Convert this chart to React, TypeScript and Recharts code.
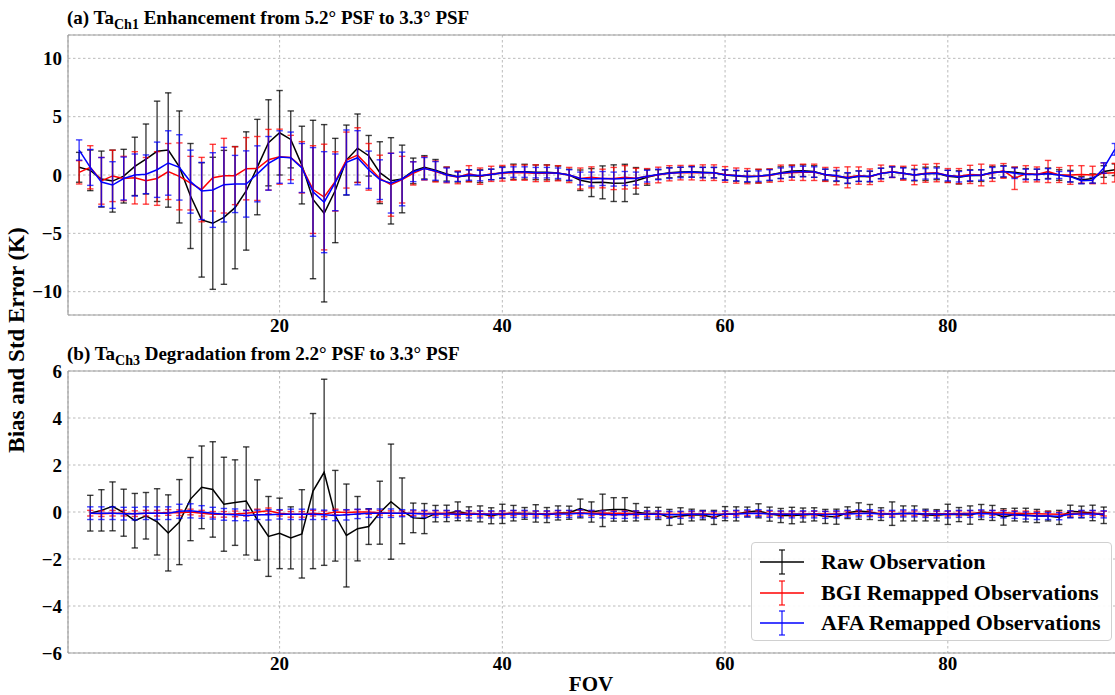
import React from 'react';
import { LineChart, Line, XAxis, YAxis, CartesianGrid, ErrorBar, ReferenceLine, Legend } from 'recharts';

// ---- panel (a): Ta Ch1, FOV 2..95 ----
const fovA = [2,3,4,5,6,7,8,9,10,11,12,13,14,15,16,17,18,19,20,21,22,23,24,25,26,27,28,29,30,31,32,33,34,35,36,37,38,39,40,41,42,43,44,45,46,47,48,49,50,51,52,53,54,55,56,57,58,59,60,61,62,63,64,65,66,67,68,69,70,71,72,73,74,75,76,77,78,79,80,81,82,83,84,85,86,87,88,89,90,91,92,93,94,95];
const rawA = [0.66,0.4,-0.35,-0.52,-0.1,0.74,1.37,2.03,2.14,0.69,-1.8,-3.85,-4.14,-3.63,-2.8,-1.37,0.68,2.76,3.62,3.05,0.85,-2.1,-3.28,-1.33,1.28,2.3,1.65,0.2,-0.5,-0.34,0.35,0.66,0.4,0.08,-0.15,-0.05,-0.1,0.05,0.2,0.28,0.28,0.23,0.23,0.17,0.0,-0.45,-0.65,-0.63,-0.7,-0.68,-0.5,-0.2,0.05,0.2,0.26,0.28,0.23,0.2,0.0,-0.08,-0.15,-0.1,0.0,0.2,0.34,0.37,0.3,0.0,-0.1,-0.28,-0.1,-0.14,0.14,0.25,0.15,0.0,0.1,0.15,-0.1,-0.2,-0.05,-0.05,0.23,0.3,0.23,0.1,0.05,0.15,0.0,-0.1,-0.43,-0.3,0.3,0.45];
const rawErrA = [1.28,1.74,2.4,2.66,2.3,2.5,3.0,4.3,4.9,4.8,4.5,4.9,5.66,5.74,5.24,5.07,4.09,3.69,3.62,2.44,3.33,6.79,7.6,4.47,3.0,2.93,1.74,2.65,3.7,2.9,1.1,1.0,0.93,0.6,0.45,0.5,0.55,0.45,0.5,0.65,0.64,0.63,0.64,0.6,0.5,0.88,1.2,1.41,1.57,1.6,1.14,0.68,0.4,0.43,0.4,0.45,0.43,0.45,0.43,0.45,0.47,0.57,0.5,0.5,0.5,0.5,0.5,0.5,0.45,0.45,0.45,0.45,0.45,0.45,0.5,0.5,0.57,0.55,0.5,0.57,0.5,0.5,0.5,0.5,0.43,0.45,0.45,0.45,0.45,0.5,0.3,0.4,0.5,0.5];
const bgiA = [0.23,0.66,-0.5,-0.08,-0.3,-0.24,-0.5,-0.3,0.3,-0.12,-0.7,-1.25,-0.23,-0.06,-0.06,0.54,0.56,1.31,1.57,1.5,0.66,-1.25,-1.89,-0.55,1.28,1.7,0.7,-0.3,-0.83,-0.4,0.14,0.57,0.3,0.0,-0.2,0.1,-0.1,0.1,0.15,0.2,0.2,0.15,0.15,0.15,0.0,-0.3,-0.2,-0.3,-0.3,-0.2,-0.28,-0.1,0.0,0.15,0.2,0.2,0.2,0.2,0.05,-0.05,-0.1,-0.1,-0.05,0.15,0.2,0.23,0.23,0.05,-0.1,-0.2,-0.05,-0.15,0.15,0.28,0.15,0.0,0.15,0.2,-0.05,-0.1,0.05,0.0,0.15,0.35,-0.28,0.1,0.05,0.3,0.0,0.0,0.05,0.0,0.15,0.2];
const bgiErrA = [1.0,1.85,2.0,2.2,1.9,2.24,2.0,2.3,2.4,2.87,2.3,2.76,2.86,3.2,2.48,2.67,2.74,2.6,2.36,1.9,2.2,3.76,4.53,2.54,2.4,2.35,2.0,2.0,2.7,2.0,1.0,1.0,0.9,0.67,0.55,0.7,0.7,0.65,0.67,0.65,0.65,0.72,0.7,0.65,0.65,0.9,0.9,0.8,0.95,1.0,0.85,0.65,0.67,0.65,0.62,0.62,0.67,0.67,0.67,0.65,0.65,0.6,0.57,0.7,0.65,0.7,0.7,0.6,0.74,0.9,0.74,0.67,0.7,0.5,0.6,0.83,0.77,0.78,0.6,0.65,0.78,0.93,0.7,0.63,0.96,0.7,0.64,0.95,0.64,0.8,0.75,0.75,0.88,0.8];
const afaA = [2.14,0.65,-0.6,-0.86,-0.3,0.0,0.06,0.45,1.03,0.65,-0.57,-1.37,-1.29,-0.83,-0.77,-0.77,0.1,1.0,1.54,1.48,0.6,-1.45,-2.33,-0.63,1.08,1.48,0.45,-0.4,-0.7,-0.34,0.28,0.55,0.35,0.0,-0.15,0.0,-0.05,0.05,0.2,0.25,0.25,0.2,0.2,0.15,0.0,-0.3,-0.35,-0.3,-0.35,-0.3,-0.3,-0.1,0.05,0.15,0.22,0.25,0.2,0.2,0.0,-0.05,-0.12,-0.1,0.0,0.15,0.25,0.3,0.25,0.05,-0.05,-0.25,-0.1,-0.1,0.12,0.25,0.15,0.0,0.1,0.15,-0.05,-0.15,-0.05,0.0,0.2,0.3,0.15,0.05,0.05,0.1,0.0,-0.14,-0.5,-0.45,0.6,2.2];
const afaErrA = [0.87,1.54,2.1,2.0,1.84,1.8,1.66,2.37,2.76,2.8,2.7,2.45,3.2,3.2,2.45,2.84,2.4,2.3,2.25,2.2,2.1,3.8,4.33,2.43,2.78,2.32,1.6,1.7,2.56,2.3,0.85,0.95,0.8,0.6,0.4,0.45,0.45,0.45,0.45,0.45,0.45,0.45,0.45,0.45,0.45,0.55,0.6,0.6,0.6,0.6,0.55,0.5,0.45,0.45,0.45,0.45,0.45,0.45,0.45,0.45,0.45,0.45,0.45,0.45,0.45,0.45,0.45,0.45,0.45,0.45,0.45,0.45,0.45,0.45,0.45,0.45,0.45,0.45,0.45,0.45,0.45,0.45,0.45,0.45,0.45,0.45,0.45,0.45,0.3,0.45,0.25,0.25,0.45,0.5];

// ---- panel (b): Ta Ch3, FOV 3..94 ----
const fovB = [3,4,5,6,7,8,9,10,11,12,13,14,15,16,17,18,19,20,21,22,23,24,25,26,27,28,29,30,31,32,33,34,35,36,37,38,39,40,41,42,43,44,45,46,47,48,49,50,51,52,53,54,55,56,57,58,59,60,61,62,63,64,65,66,67,68,69,70,71,72,73,74,75,76,77,78,79,80,81,82,83,84,85,86,87,88,89,90,91,92,93,94];
const rawB = [-0.05,0.07,0.24,-0.03,-0.37,-0.16,-0.42,-0.89,-0.43,0.55,1.05,0.96,0.33,0.4,0.47,-0.34,-1.04,-0.91,-1.1,-0.93,0.89,1.69,-0.16,-1.0,-0.71,-0.62,-0.03,0.44,0.05,-0.25,-0.28,-0.07,-0.06,0.03,-0.08,-0.08,-0.16,-0.08,-0.05,-0.06,-0.06,-0.13,-0.04,-0.03,0.15,0.0,0.07,0.11,0.11,-0.01,-0.06,-0.06,-0.23,-0.17,-0.13,-0.13,-0.23,-0.07,-0.08,0.0,0.05,-0.09,-0.15,-0.15,-0.13,-0.1,-0.19,-0.2,-0.03,0.04,0.0,-0.09,-0.07,-0.06,-0.06,-0.13,-0.14,-0.1,-0.11,-0.13,0.0,-0.04,-0.21,-0.11,-0.13,-0.17,-0.17,-0.23,0.03,0.0,-0.04,-0.14];
const rawErrB = [0.76,0.88,1.04,1.0,1.16,0.99,1.41,1.62,1.81,1.77,1.76,2.03,2.0,1.82,2.3,1.71,1.7,1.5,1.32,1.88,3.3,3.96,1.93,2.19,1.37,0.76,1.34,2.45,1.4,0.63,0.64,0.35,0.35,0.4,0.3,0.34,0.34,0.41,0.33,0.25,0.37,0.32,0.3,0.28,0.4,0.43,0.69,0.5,0.5,0.37,0.26,0.26,0.34,0.35,0.25,0.2,0.3,0.3,0.3,0.21,0.3,0.3,0.3,0.35,0.3,0.28,0.3,0.32,0.25,0.35,0.32,0.27,0.5,0.32,0.32,0.25,0.24,0.43,0.3,0.39,0.32,0.32,0.35,0.27,0.29,0.28,0.21,0.3,0.26,0.25,0.33,0.35];
const bgiB = [-0.05,-0.07,-0.05,-0.05,-0.07,-0.05,-0.05,-0.02,-0.03,0.0,-0.05,-0.1,-0.1,-0.08,-0.05,0.0,0.05,-0.05,-0.1,-0.1,-0.05,-0.08,0.0,-0.02,0.0,0.0,-0.03,-0.05,-0.05,-0.05,-0.06,-0.05,-0.05,-0.06,-0.05,-0.07,-0.08,-0.06,-0.05,-0.06,-0.07,-0.07,-0.05,-0.05,-0.03,-0.05,-0.04,-0.05,-0.05,-0.06,-0.08,-0.08,-0.1,-0.1,-0.08,-0.08,-0.1,-0.08,-0.06,-0.05,-0.05,-0.07,-0.08,-0.08,-0.08,-0.07,-0.08,-0.08,-0.06,-0.05,-0.05,-0.06,-0.07,-0.06,-0.06,-0.07,-0.07,-0.07,-0.06,-0.05,-0.04,-0.04,-0.03,-0.05,-0.06,-0.07,-0.08,-0.1,-0.07,-0.05,-0.05,-0.07];
const bgiErrB = [0.12,0.12,0.12,0.12,0.12,0.12,0.12,0.12,0.12,0.12,0.12,0.12,0.12,0.12,0.12,0.12,0.12,0.12,0.12,0.12,0.12,0.12,0.12,0.1,0.1,0.1,0.1,0.1,0.1,0.1,0.1,0.1,0.1,0.1,0.1,0.1,0.1,0.1,0.1,0.1,0.1,0.1,0.1,0.1,0.1,0.1,0.1,0.1,0.1,0.1,0.1,0.1,0.1,0.1,0.1,0.1,0.1,0.1,0.1,0.1,0.1,0.1,0.1,0.1,0.1,0.1,0.1,0.1,0.1,0.1,0.1,0.1,0.1,0.1,0.1,0.1,0.1,0.1,0.1,0.1,0.1,0.1,0.1,0.1,0.1,0.1,0.1,0.1,0.1,0.1,0.1,0.1];
const afaB = [-0.05,-0.05,-0.05,-0.07,-0.07,-0.05,-0.05,-0.05,0.03,0.05,0.0,-0.05,-0.1,-0.12,-0.15,-0.12,-0.12,-0.1,-0.1,-0.1,-0.1,-0.12,-0.15,-0.12,-0.08,-0.05,-0.05,-0.05,-0.05,-0.06,-0.08,-0.08,-0.08,-0.1,-0.1,-0.1,-0.1,-0.1,-0.08,-0.08,-0.1,-0.1,-0.08,-0.08,-0.05,-0.08,-0.1,-0.12,-0.12,-0.1,-0.1,-0.1,-0.12,-0.12,-0.1,-0.1,-0.12,-0.1,-0.08,-0.06,-0.05,-0.08,-0.1,-0.1,-0.1,-0.1,-0.12,-0.1,-0.08,-0.06,-0.05,-0.08,-0.08,-0.06,-0.06,-0.08,-0.1,-0.1,-0.08,-0.08,-0.06,-0.08,-0.1,-0.12,-0.15,-0.17,-0.17,-0.18,-0.1,-0.08,-0.08,-0.1];
const afaErrB = [0.27,0.27,0.27,0.27,0.27,0.27,0.27,0.27,0.3,0.3,0.27,0.25,0.25,0.25,0.22,0.2,0.22,0.2,0.22,0.22,0.22,0.2,0.22,0.22,0.2,0.18,0.18,0.18,0.15,0.15,0.15,0.15,0.15,0.15,0.15,0.15,0.15,0.15,0.15,0.15,0.15,0.15,0.15,0.15,0.15,0.15,0.15,0.15,0.15,0.15,0.15,0.15,0.15,0.15,0.15,0.15,0.15,0.15,0.15,0.15,0.15,0.15,0.15,0.15,0.15,0.15,0.15,0.15,0.15,0.15,0.15,0.15,0.15,0.15,0.15,0.15,0.15,0.15,0.15,0.15,0.15,0.15,0.15,0.15,0.15,0.15,0.15,0.15,0.15,0.15,0.15,0.15];

const xTicks = [20, 40, 60, 80];
const yTicksA = [-10, -5, 0, 5, 10];
const yTicksB = [-6, -4, -2, 0, 2, 4, 6];

const seriesNames = ['Raw Observation', 'BGI Remapped Observations', 'AFA Remapped Observations'];
const seriesColors = ['#000000', '#ff0000', '#0000ff'];
const barColors = ['rgba(0,0,0,0.75)', 'rgba(255,0,0,0.75)', 'rgba(0,0,255,0.75)'];

const FONT = '"Liberation Serif", "DejaVu Serif", serif';
const tickStyle = { fontFamily: FONT, fontWeight: 700, fontSize: 19, fill: '#000' };
const fmt = (v: number) => (v < 0 ? '\u2212' + Math.abs(v) : String(v));

const buildRows = (fov: number[], vals: number[][], errs: number[][]) =>
  fov.map((f, i) => ({
    fov: f,
    raw: vals[0][i], rawErr: errs[0][i],
    bgi: vals[1][i], bgiErr: errs[1][i],
    afa: vals[2][i], afaErr: errs[2][i],
  }));

const dataA = buildRows(fovA, [rawA, bgiA, afaA], [rawErrA, bgiErrA, afaErrA]);
const dataB = buildRows(fovB, [rawB, bgiB, afaB], [rawErrB, bgiErrB, afaErrB]);

const keys = ['raw', 'bgi', 'afa'];

const LegendBox = () => (
  <div style={{
    width: 361, height: 99, boxSizing: 'border-box', background: 'rgba(255,255,255,0.9)',
    border: '1px solid #d0d0d0', borderRadius: 4, paddingTop: 4,
  }}>
    {seriesNames.map((name, i) => (
      <div key={name} style={{ display: 'flex', alignItems: 'center', height: 30.5 }}>
        <svg width={62} height={30} style={{ marginLeft: 6 }}>
          <line x1={2} x2={46} y1={15} y2={15} stroke={seriesColors[i]} strokeWidth={1.5} />
          <line x1={24} x2={24} y1={3} y2={27} stroke={barColors[i]} strokeWidth={1.5} />
          <line x1={21} x2={27} y1={3} y2={3} stroke={barColors[i]} strokeWidth={1.5} />
          <line x1={21} x2={27} y1={27} y2={27} stroke={barColors[i]} strokeWidth={1.5} />
        </svg>
        <span style={{ fontFamily: FONT, fontWeight: 700, fontSize: 22, marginLeft: 1, whiteSpace: 'nowrap' }}>{name}</span>
      </div>
    ))}
  </div>
);

const Panel = ({ data, yDomain, yTicks, top, height, marginTop, withLegend }: any) => (
  <div style={{ position: 'absolute', left: 0, top }}>
    <LineChart width={1126} height={height} data={data} margin={{ top: marginTop, right: 0, bottom: 0, left: 8 }}>
      <CartesianGrid stroke="#a8a8a8" strokeDasharray="2.5 2.5" strokeWidth={0.8} />
      <XAxis dataKey="fov" type="number" domain={[1, 96]} ticks={xTicks} allowDataOverflow
        height={30} tick={tickStyle} tickLine={false} tickSize={3} tickMargin={1}
        axisLine={{ stroke: '#a0a0a0', strokeWidth: 1.2 }} />
      <YAxis type="number" domain={yDomain} ticks={yTicks} width={60} interval={0}
        tick={tickStyle} tickFormatter={fmt} tickLine={false} tickSize={4} tickMargin={2}
        axisLine={{ stroke: '#a0a0a0', strokeWidth: 1.2 }} />
      <ReferenceLine y={yDomain[1]} stroke="#a0a0a0" strokeWidth={1.2} />
      {keys.map((k, i) => (
        <Line key={k} dataKey={k} type="linear" stroke={seriesColors[i]} strokeWidth={1.5}
          dot={false} isAnimationActive={false}>
          <ErrorBar dataKey={k + 'Err'} width={3.2} stroke={barColors[i]} strokeWidth={1.4} direction="y" isAnimationActive={false} />
        </Line>
      ))}
      {withLegend && (
        <Legend layout="vertical" align="center" verticalAlign="middle" content={() => <LegendBox />}
          wrapperStyle={{ left: 751, top: 542 - top, width: 361 }} />
      )}
    </LineChart>
  </div>
);

const titleStyle: React.CSSProperties = {
  position: 'absolute', fontFamily: FONT, fontWeight: 700, fontSize: 19, whiteSpace: 'nowrap', color: '#000',
};
const subStyle: React.CSSProperties = { fontSize: 14, position: 'relative', top: 5 };

export default function App() {
  return (
    <div style={{ position: 'fixed', left: 0, top: 0, width: 1115, height: 695, overflow: 'hidden', background: '#fff' }}>
      <Panel data={dataA} yDomain={[-12, 12]} yTicks={yTicksA} top={0} height={345} marginTop={35} />
      <Panel data={dataB} yDomain={[-6, 6]} yTicks={yTicksB} top={345} height={338} marginTop={26} withLegend />
      <div style={{ ...titleStyle, left: 67, top: 7 }}>
        (a) Ta<span style={subStyle}>Ch1</span> Enhancement from 5.2° PSF to 3.3° PSF
      </div>
      <div style={{ ...titleStyle, left: 67, top: 343 }}>
        (b) Ta<span style={subStyle}>Ch3</span> Degradation from 2.2° PSF to 3.3° PSF
      </div>
      <div style={{
        position: 'absolute', left: 17, top: 340, transform: 'translate(-50%, -50%) rotate(-90deg)',
        fontFamily: FONT, fontWeight: 700, fontSize: 23, whiteSpace: 'nowrap',
      }}>
        Bias and Std Error (K)
      </div>
      <div style={{
        position: 'absolute', left: 591, top: 684, transform: 'translate(-50%, -50%)',
        fontFamily: FONT, fontWeight: 700, fontSize: 21,
      }}>
        FOV
      </div>
    </div>
  );
}
